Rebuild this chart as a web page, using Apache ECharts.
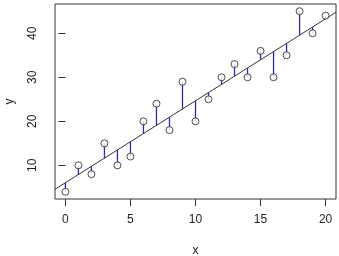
<!DOCTYPE html>
<html>
<head>
<meta charset="UTF-8">
<script src="https://cdn.jsdelivr.net/npm/echarts@6/dist/echarts.min.js"></script>
<style>
  body { margin: 0; background: #fff; }
  #root { width: 339px; height: 256px; }
</style>
</head>
<body>
<div id="root"></div>
<script>
  // data
  var xs = [0, 1, 2, 3, 4, 5, 6, 7, 8, 9, 10, 11, 12, 13, 14, 15, 16, 17, 18, 19, 20];
  var ys = [4, 10, 8, 15, 10, 12, 20, 24, 18, 29, 20, 25, 30, 33, 30, 36, 30, 35, 45, 40, 44];
  var xTicks = [0, 5, 10, 15, 20];
  var yTicks = [10, 20, 30, 40];

  // least squares fit
  var n = xs.length, mx = 0, my = 0;
  xs.forEach(function (v, i) { mx += v; my += ys[i]; });
  mx /= n; my /= n;
  var sxy = 0, sxx = 0;
  xs.forEach(function (v, i) { sxy += (v - mx) * (ys[i] - my); sxx += (v - mx) * (v - mx); });
  var slope = sxy / sxx, icept = my - slope * mx;
  function fit(x) { return icept + slope * x; }

  // R style 4% axis extension
  var xMin = -0.8, xMax = 20.8;
  var yLo = Math.min.apply(null, ys), yHi = Math.max.apply(null, ys);
  var yMin = yLo - (yHi - yLo) * 0.04, yMax = yHi + (yHi - yLo) * 0.04;

  var pts = xs.map(function (v, i) { return [v, ys[i]]; });
  var segs = xs.map(function (v, i) { return [v, ys[i], fit(v)]; });

  var font = 'Liberation Sans, Arial, sans-serif';
  var chart = echarts.init(document.getElementById('root'));
  chart.setOption({
    animation: false,
    grid: {
      left: 55, right: 3, top: 4, bottom: 57,
      containLabel: false, outerBoundsMode: 'none',
      show: true, borderColor: '#333', borderWidth: 1
    },
    xAxis: {
      type: 'value', min: xMin, max: xMax,
      name: 'x', nameLocation: 'middle', nameGap: 46,
      nameTextStyle: { color: '#222', fontSize: 12, fontFamily: font },
      splitLine: { show: false },
      axisLine: { show: false },
      axisTick: { show: true, inside: false, length: 7, customValues: xTicks, lineStyle: { color: '#333' } },
      axisLabel: { customValues: xTicks, margin: 15, color: '#222', fontSize: 12, fontFamily: font }
    },
    yAxis: {
      type: 'value', min: yMin, max: yMax,
      name: 'y', nameLocation: 'middle', nameGap: 39, nameRotate: 90,
      nameTextStyle: { color: '#222', fontSize: 12, fontFamily: font },
      splitLine: { show: false },
      axisLine: { show: false },
      axisTick: { show: true, inside: false, length: 7, customValues: yTicks, lineStyle: { color: '#333' } },
      axisLabel: { customValues: yTicks, rotate: 90, margin: 16, color: '#222', fontSize: 12, fontFamily: font }
    },
    series: [
      {
        type: 'line',
        data: [[xMin, fit(xMin)], [xMax, fit(xMax)]],
        showSymbol: false,
        lineStyle: { color: '#333', width: 1 },
        clip: true,
        z: 1
      },
      {
        type: 'custom',
        data: segs,
        renderItem: function (params, api) {
          var a = api.coord([api.value(0), api.value(1)]);
          var b = api.coord([api.value(0), api.value(2)]);
          return {
            type: 'line',
            shape: { x1: a[0], y1: a[1], x2: b[0], y2: b[1] },
            style: { stroke: '#2b2ba8', lineWidth: 1.3 }
          };
        },
        z: 2
      },
      {
        type: 'scatter',
        data: pts,
        symbol: 'circle',
        symbolSize: 7,
        itemStyle: { color: '#fff', borderColor: '#222', borderWidth: 1 },
        z: 3
      }
    ]
  });
</script>
</body>
</html>
